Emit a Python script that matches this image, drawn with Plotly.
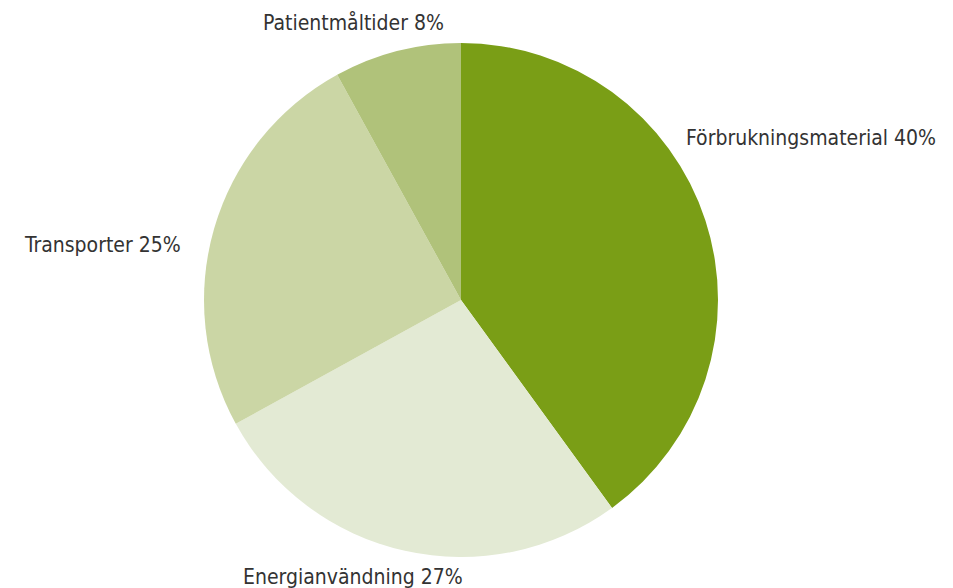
import plotly.graph_objects as go

labels = ["Förbrukningsmaterial", "Energianvändning", "Transporter", "Patientmåltider"]
values = [40, 27, 25, 8]
colors = ["#7a9e16", "#e3ead4", "#cbd6a5", "#b0c27a"]

W, H = 953, 588
fig = go.Figure(go.Pie(
    labels=labels, values=values, sort=False, direction="clockwise", rotation=0,
    marker=dict(colors=colors, line=dict(width=0)),
    textinfo="none", hoverinfo="label+percent",
    domain=dict(x=[204 / W, 718 / W], y=[31 / H, 545 / H]),
    showlegend=False,
))

# label positions (pixels): (x, y, xanchor)
pos = [(684, 138, "left"), (353, 577, "center"), (183, 245, "right"), (353, 22, "center")]
font = dict(family="Liberation Sans Narrow, DejaVu Sans Condensed, Arial", size=21, color="#333333")
for (x, y, xa), lab, v in zip(pos, labels, values):
    fig.add_annotation(x=x / W, y=1 - y / H, xref="paper", yref="paper", text=f"{lab} {v}%",
                       showarrow=False, xanchor=xa, yanchor="middle", font=font)

fig.update_layout(width=W, height=H, margin=dict(l=0, r=0, t=0, b=0),
                  paper_bgcolor="white", plot_bgcolor="white")
fig.write_html("out.html")
